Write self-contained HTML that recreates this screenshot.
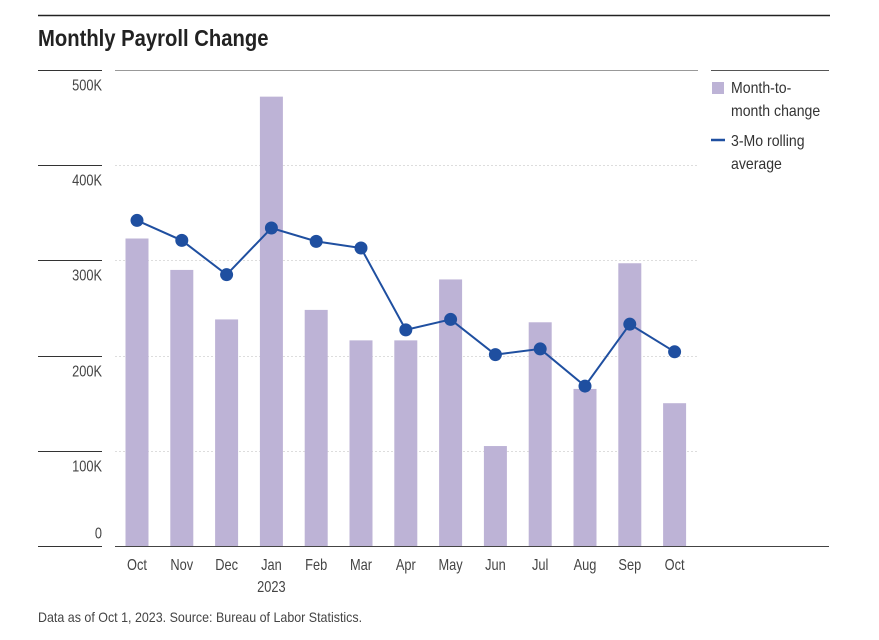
<!DOCTYPE html>
<html><head><meta charset="utf-8"><style>
body{margin:0;background:#fff;width:879px;height:640px;overflow:hidden;font-family:"Liberation Sans Narrow","Liberation Sans",sans-serif}
</style></head><body>
<svg id="c" width="879" height="640" style="position:absolute;left:0;top:0">
<line x1="38" y1="15.5" x2="830" y2="15.5" stroke="#222" stroke-width="1.5"/>
<text x="38" y="46" font-size="23" font-weight="bold" fill="#222" data-k="0.88">Monthly Payroll Change</text>
<text x="38" y="622" font-size="14" fill="#444" data-k="0.89">Data as of Oct 1, 2023. Source: Bureau of Labor Statistics.</text>
<g>
<line x1="711" y1="70.5" x2="829" y2="70.5" stroke="#555" stroke-width="1"/>
<rect x="712" y="82" width="12" height="12" fill="#bdb3d6"/>
<text x="731" y="93" font-size="16" fill="#333" data-k="0.88">Month-to-</text>
<text x="731" y="116" font-size="16" fill="#333" data-k="0.88">month change</text>
<line x1="711" y1="140" x2="725" y2="140" stroke="#1f4fa0" stroke-width="2.5"/>
<text x="731" y="146" font-size="16" fill="#333" data-k="0.88">3-Mo rolling</text>
<text x="731" y="169" font-size="16" fill="#333" data-k="0.88">average</text>
</g>
</svg>
<script>
const categories=["Oct","Nov","Dec","Jan","Feb","Mar","Apr","May","Jun","Jul","Aug","Sep","Oct"];
const barValues=[323,290,238,472,248,216,216,280,105,235,165,297,150];
const avgValues=[342,321,285,334,320,313,227,238,201,207,168,233,204];
const yTicks=[0,100,200,300,400,500];
const yTickLabels=["0","100K","200K","300K","400K","500K"];
const svg=document.getElementById('c');
const NS='http://www.w3.org/2000/svg';
const y0=546,ppk=0.952,x0=137,step=44.8;
const y=v=>y0-v*ppk;
const x=i=>x0+i*step;
function mk(t,a,p){const e=document.createElementNS(NS,t);for(const k in a)e.setAttribute(k,a[k]);(p||svg).appendChild(e);return e;}
yTicks.forEach((v,i)=>{
 const yy=Math.round(y(v))+0.5;
 const t=mk('line',{x1:38,y1:yy,x2:102,y2:yy,stroke:'#333','stroke-width':1});
 
 
 if(v===0){const b=mk('line',{x1:115,y1:yy,x2:829,y2:yy,stroke:'#444','stroke-width':1});
  
  }
 else{const g=mk('line',{x1:115,y1:yy,x2:698,y2:yy,stroke:v===500?'#999':'#ddd','stroke-width':1,'stroke-dasharray':v===500?'':'2,2'});
  
  }
 const l=mk('text',{x:102,y:v===0?yy-8:yy+20,'text-anchor':'end','font-size':16,fill:'#444'});
 l.textContent=yTickLabels[i];
 
 
});
barValues.forEach((v,i)=>{
 const r=mk('rect',{x:x(i)-11.5,y:y(v),width:23,height:y0-y(v),fill:'#bdb3d6'});
 
 
});
const pts=avgValues.map((v,i)=>x(i)+','+y(v)).join(' ');
const pl=mk('polyline',{points:pts,fill:'none',stroke:'#1f4fa0','stroke-width':2});


avgValues.forEach((v,i)=>{
 const c=mk('circle',{cx:x(i),cy:y(v),r:6.5,fill:'#1f4fa0'});
 
 
});
categories.forEach((c,i)=>{
 const t=mk('text',{x:x(i),y:570,'text-anchor':'middle','font-size':16,fill:'#444'});
 t.textContent=c;
 
 
});
const yr=mk('text',{x:x(3),y:592,'text-anchor':'middle','font-size':16,fill:'#444'});
yr.textContent='2023';


// condense text to mimic a narrow typeface
svg.querySelectorAll('text').forEach(t=>{
 const k=parseFloat(t.getAttribute('data-k')||'0.8');
 const w=t.getComputedTextLength();
 t.setAttribute('textLength',(w*k).toFixed(1));
 t.setAttribute('lengthAdjust','spacingAndGlyphs');
});
</script>
</body></html>
